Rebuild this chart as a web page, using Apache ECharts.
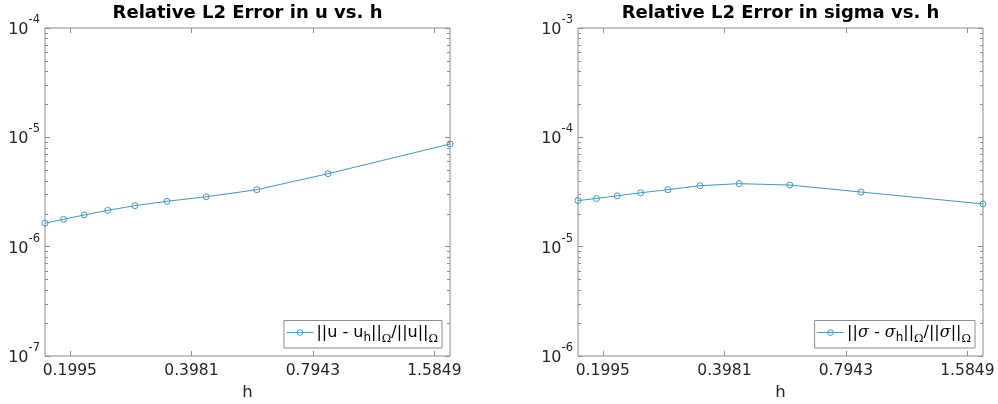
<!DOCTYPE html>
<html><head><meta charset="utf-8">
<script src="https://cdn.jsdelivr.net/npm/echarts@6/dist/echarts.min.js"></script>
<style>html,body{margin:0;padding:0;background:#fff}#c{width:998px;height:404px}</style>
</head><body><div id="c"></div>
<script>
// ---- data ----
const h = [0.1732, 0.1925, 0.2165, 0.2474, 0.2887, 0.3464, 0.4330, 0.5774, 0.8660, 1.7321];
const errU = [1.64e-6, 1.78e-6, 1.95e-6, 2.15e-6, 2.37e-6, 2.60e-6, 2.86e-6, 3.32e-6, 4.65e-6, 8.69e-6];
const errSigma = [2.64e-5, 2.76e-5, 2.92e-5, 3.11e-5, 3.32e-5, 3.61e-5, 3.77e-5, 3.66e-5, 3.16e-5, 2.46e-5];
const xTickLabels = ['0.1995', '0.3981', '0.7943', '1.5849'];
const xRange = [0.1732, 1.7321];
const yRangeU = [1e-7, 1e-4];
const yRangeSigma = [1e-6, 1e-3];
const titles = ['Relative L2 Error in u vs. h', 'Relative L2 Error in sigma vs. h'];
const xLabel = 'h';
const seriesNames = ['uErr', 'sigmaErr'];

// ---- styling ----
const lineCol = '#4596cb';
const axisCol = '#8e8e8e';
const txtCol = '#262626';
const FONT = 'DejaVu Sans';

const grids = [
  {left: 45, top: 28, width: 405, height: 328, show: true, borderColor: axisCol, borderWidth: 1, backgroundColor: '#fff', outerBoundsMode: 'none', containLabel: false},
  {left: 578, top: 28, width: 405, height: 328, show: true, borderColor: axisCol, borderWidth: 1, backgroundColor: '#fff', outerBoundsMode: 'none', containLabel: false}
];

const xTickVals = xTickLabels.map(s => Math.log10(parseFloat(s)));
const lx = [Math.log10(xRange[0]), Math.log10(xRange[1])];

function minorVals(r) {
  const a = Math.round(Math.log10(r[0])), b = Math.round(Math.log10(r[1]));
  const out = [];
  for (let n = a; n < b; n++) for (let k = 2; k <= 9; k++) out.push(n + Math.log10(k));
  return out;
}

const xAxes = [], yAxes = [];
[0, 1].forEach(g => {
  xAxes.push({gridIndex: g, type: 'log', logBase: 10, min: xRange[0], max: xRange[1],
    axisLine: {show: false}, axisTick: {show: false}, axisLabel: {show: false}, splitLine: {show: false}});
  xAxes.push({gridIndex: g, type: 'value', position: 'bottom', min: lx[0], max: lx[1],
    axisLine: {show: false, onZero: false}, splitLine: {show: false},
    axisTick: {inside: true, length: 5, customValues: xTickVals, lineStyle: {color: axisCol}},
    axisLabel: {customValues: xTickVals, margin: 7, fontSize: 15.5, fontFamily: FONT, color: txtCol,
      formatter: v => Math.pow(10, v).toFixed(4)},
    name: xLabel, nameLocation: 'middle', nameGap: 26,
    nameTextStyle: {fontSize: 16.5, fontFamily: FONT, color: txtCol}});
  xAxes.push({gridIndex: g, type: 'value', position: 'top', min: lx[0], max: lx[1],
    axisLine: {show: false, onZero: false}, splitLine: {show: false},
    axisTick: {inside: true, length: 5, customValues: xTickVals, lineStyle: {color: axisCol}},
    axisLabel: {show: false},
    name: titles[g], nameLocation: 'middle', nameGap: 6,
    nameTextStyle: {fontSize: 18, fontWeight: 'bold', fontFamily: FONT, color: '#000'}});

  const yr = g === 0 ? yRangeU : yRangeSigma;
  const ly = [Math.log10(yr[0]), Math.log10(yr[1])];
  const mv = minorVals(yr);
  yAxes.push({gridIndex: g, type: 'log', logBase: 10, min: yr[0], max: yr[1], position: 'left',
    axisLine: {show: false, onZero: false}, splitLine: {show: false},
    axisTick: {inside: true, length: 5, lineStyle: {color: axisCol}},
    axisLabel: {margin: 5, color: txtCol,
      formatter: v => '{b|10}{s|' + Math.round(Math.log10(v)) + '}',
      rich: {b: {fontSize: 16, fontFamily: FONT, color: txtCol, lineHeight: 28, padding: [4, 0, 0, 0]},
             s: {fontSize: 11.5, fontFamily: FONT, color: txtCol, verticalAlign: 'top', lineHeight: 28, height: 12}}}});
  yAxes.push({gridIndex: g, type: 'log', logBase: 10, min: yr[0], max: yr[1], position: 'right',
    axisLine: {show: false, onZero: false}, splitLine: {show: false}, axisLabel: {show: false},
    axisTick: {inside: true, length: 5, lineStyle: {color: axisCol}}});
  yAxes.push({gridIndex: g, type: 'value', min: ly[0], max: ly[1], position: 'left',
    axisLine: {show: false, onZero: false}, splitLine: {show: false}, axisLabel: {show: false},
    axisTick: {inside: true, length: 3, customValues: mv, lineStyle: {color: axisCol}}});
  yAxes.push({gridIndex: g, type: 'value', min: ly[0], max: ly[1], position: 'right',
    axisLine: {show: false, onZero: false}, splitLine: {show: false}, axisLabel: {show: false},
    axisTick: {inside: true, length: 3, customValues: mv, lineStyle: {color: axisCol}}});
});

function mkSeries(name, ys, g) {
  return {type: 'line', name: name, xAxisIndex: g * 3, yAxisIndex: g * 4,
    data: h.map((x, i) => [x, ys[i]]),
    symbol: 'circle', symbolSize: 6, showAllSymbol: true,
    lineStyle: {width: 1, color: lineCol},
    itemStyle: {color: 'rgba(255,255,255,0)', borderWidth: 1, borderColor: lineCol},
    emphasis: {disabled: true}};
}

const richLegend = {
  n: {fontSize: 16, fontFamily: FONT, color: '#000', lineHeight: 24},
  s: {fontSize: 12, fontFamily: FONT, color: '#000', verticalAlign: 'bottom', lineHeight: 24, height: 13},
  o: {fontSize: 11.5, fontFamily: 'DejaVu Serif', color: '#000', verticalAlign: 'bottom', lineHeight: 24, height: 11},
  g: {fontSize: 16, fontFamily: 'DejaVu Serif', fontStyle: 'italic', color: '#000', lineHeight: 24}
};
const legendBase = {orient: 'vertical', bottom: 56, backgroundColor: '#fff', borderColor: axisCol, borderWidth: 1,
  padding: [4, 4, 3, 2], itemWidth: 27, itemHeight: 7, itemGap: 0, selectedMode: false,
  lineStyle: {width: 1}, itemStyle: {borderWidth: 1},
  textStyle: {rich: richLegend, padding: [0, 0, 0, -2]}};

const option = {
  animation: false,
  backgroundColor: '#fff',
  grid: grids,
  xAxis: xAxes,
  yAxis: yAxes,
  legend: [
    Object.assign({}, legendBase, {data: [seriesNames[0]], right: 556,
      formatter: () => '{n|||u - u}{s|h}{n|||}{o|Ω}{n|/||u||}{o|Ω}'}),
    Object.assign({}, legendBase, {data: [seriesNames[1]], right: 23,
      formatter: () => '{n|||}{g|σ}{n| - }{g|σ}{s|h}{n|||}{o|Ω}{n|/||}{g|σ}{n|||}{o|Ω}'})
  ],
  series: [mkSeries(seriesNames[0], errU, 0), mkSeries(seriesNames[1], errSigma, 1)]
};
echarts.init(document.getElementById('c'), null, {renderer: 'canvas'}).setOption(option);
</script>
</body></html>
